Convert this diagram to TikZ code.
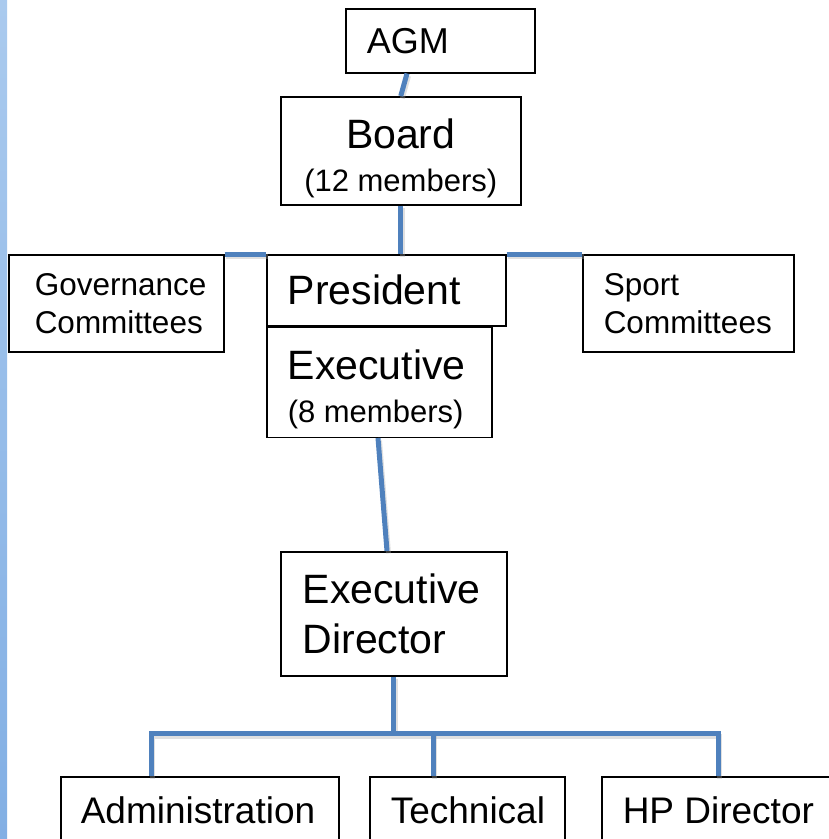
\documentclass[tikz,border=0pt]{standalone}
\usepackage{fontspec}
\setmainfont{Liberation Sans}
\usetikzlibrary{positioning,calc}
\hyphenpenalty=10000
\exhyphenpenalty=10000
\definecolor{linkblue}{RGB}{79,129,189}
\definecolor{stripTop}{RGB}{170,202,238}
\definecolor{stripMid}{RGB}{228,238,250}
\definecolor{stripBot}{RGB}{130,175,228}
\newcommand\fsagm{\fontsize{36}{40}\selectfont}
\newcommand\fsbig{\fontsize{41}{43}\selectfont}
\newcommand\fstwo{\fontsize{41}{50}\selectfont}
\newcommand\fscom{\fontsize{31.5}{38}\selectfont}
\newcommand\fssmall{\fontsize{31}{36}\selectfont}
\newcommand\fsbottom{\fontsize{37}{42}\selectfont}
\newcommand\topgap{\rule{0pt}{44pt}}

\begin{document}
\begin{tikzpicture}[
  x=1pt, y=-1pt,
  box/.style={draw, line width=1.5pt, anchor=north west, inner ysep=0pt, align=flush left},
  link/.style={draw=linkblue, line width=5pt,
    preaction={draw=black!35, opacity=.35, line width=5pt,
      transform canvas={shift={(1.5pt,-2.5pt)}}}},
  ]
  \useasboundingbox (0,0) rectangle (829,839);
  \shade[top color=stripTop, middle color=stripMid, bottom color=stripBot] (0,0) rectangle (7,839);

  % top of the chart
  \node[box, font=\fsagm, inner xsep=21pt, text width=147pt, minimum height=64pt] (agm) at (345,8) {AGM};
  \node[box, font=\fsbig, align=flush center, inner xsep=10pt, text width=220pt, minimum height=108pt] (board) at (280,96) {\topgap Board\\{\fssmall (12 members)}};
  \node[box, font=\fsbig, inner xsep=21pt, text width=197pt, minimum height=71pt] (pres) at (266,254) {President};
  \node[box, font=\fsbig, inner xsep=21pt, text width=183pt, minimum height=110pt, below=0pt of pres.south west, anchor=north west] (exec) {\topgap Executive\\{\fssmall (8 members)}};
  \node[box, font=\fscom, inner xsep=26pt, text width=163pt, minimum height=97pt] (gov) at (8,254) {Governance\\Committees};
  \node[box, font=\fscom, inner xsep=21pt, text width=169pt, minimum height=97pt] (sport) at (582,254) {Sport\\Committees};

  % staff
  \node[box, font=\fstwo, inner xsep=22pt, text width=182pt, minimum height=124pt] (edir) at (280,551) {Executive\\Director};
  \node[box, font=\fsbottom, inner xsep=20pt, text width=238pt, minimum height=68pt] (admin) at (60,776) {Administration};
  \node[box, font=\fsbottom, inner xsep=21pt, text width=153pt, minimum height=68pt] (tech) at (369,776) {Technical};
  \node[box, font=\fsbottom, inner xsep=21pt, text width=200pt, minimum height=68pt] (hp) at (601,776) {HP Director};

  \draw[link] ([xshift=62pt]agm.south west) -- (board.north);
  \draw[link] (board.south) -- (board.south |- pres.north);
  \draw[link] (gov.north east) -- (pres.north west);
  \draw[link] (pres.north east) -- (sport.north west);
  \draw[link] ([xshift=112pt]exec.south west) -- ([xshift=107pt]edir.north west);

  \coordinate (bus) at ([yshift=-57pt]edir.south);
  \coordinate (adminIn) at ([xshift=91pt]admin.north west);
  \coordinate (techIn) at ([xshift=64pt]tech.north west);
  \coordinate (hpIn) at ([xshift=117pt]hp.north west);
  \draw[link] (edir.south) -- (bus);
  \draw[link] (adminIn) |- (bus) -| (hpIn);
  \draw[link] (techIn) -- (techIn |- bus);
\end{tikzpicture}
\end{document}
